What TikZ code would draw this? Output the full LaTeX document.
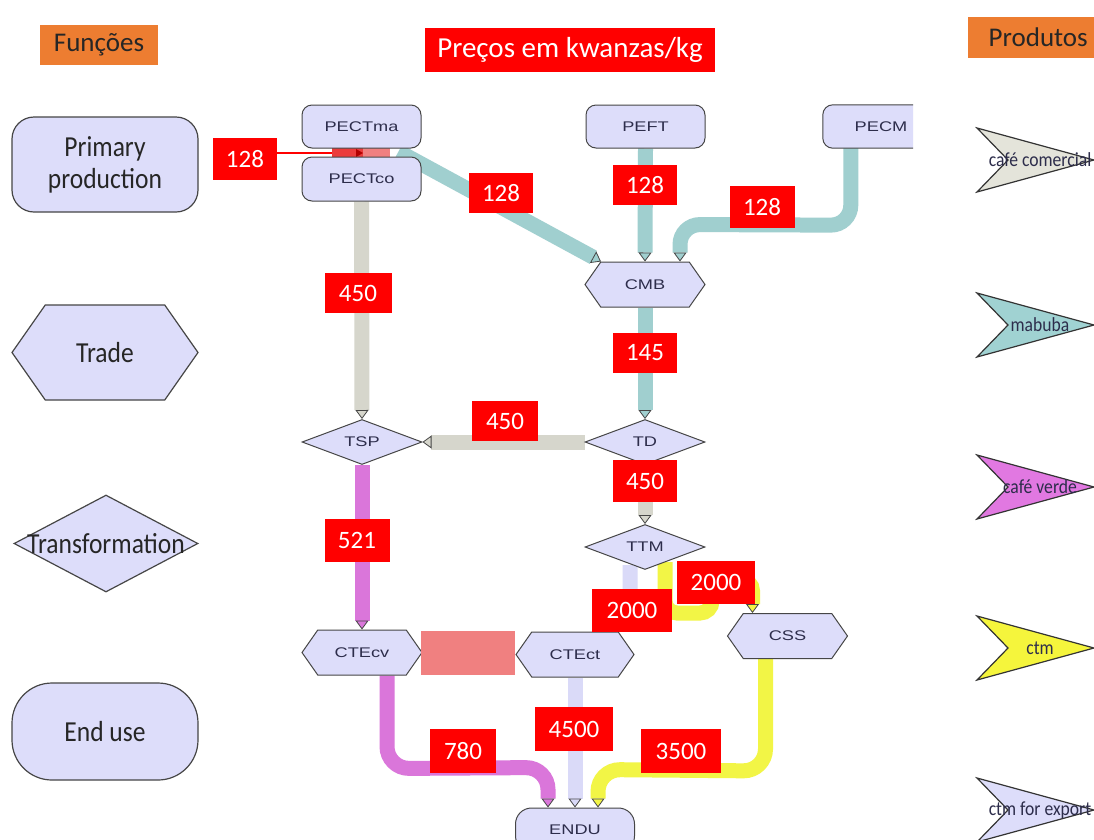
\documentclass[tikz,border=0pt]{standalone}
\usepackage{fontspec}
\setmainfont{Carlito}
\newfontfamily\nodefont[FakeStretch=1.3]{Liberation Sans}
\newfontfamily\legfont[FakeStretch=0.88]{Carlito}
\usetikzlibrary{shapes.geometric,shapes.symbols,arrows.meta,calc}
\pgfdeclarelayer{bg}\pgfdeclarelayer{bgwhite}\pgfsetlayers{bgwhite,bg,main}
\definecolor{lav}{RGB}{221,221,250}
\definecolor{bord}{RGB}{70,70,70}
\definecolor{teal1}{RGB}{160,207,207}
\definecolor{gray1}{RGB}{214,214,204}
\definecolor{viol}{RGB}{218,118,218}
\definecolor{yel}{RGB}{242,245,70}
\definecolor{lavf}{RGB}{218,218,248}
\definecolor{org}{RGB}{237,125,49}
\definecolor{coral}{RGB}{240,128,128}
\definecolor{redseg}{RGB}{235,60,60}
\definecolor{txt}{RGB}{45,45,75}
\definecolor{ccom}{RGB}{228,228,218}
\definecolor{cmab}{RGB}{160,210,210}
\definecolor{cver}{RGB}{225,120,225}
\definecolor{cctm}{RGB}{245,245,60}
\tikzset{
  nfont/.style={font=\nodefont\fontsize{14}{16}\selectfont, text=txt},
  box/.style={draw=bord, line width=1pt, fill=lav, rounded corners=10pt, minimum width=119pt, minimum height=43pt, inner sep=0pt, nfont},
  hexa/.style={draw=bord, line width=1pt, fill=lav, signal, signal to=west and east, signal pointer angle=110, minimum width=120pt, minimum height=45pt, inner sep=0pt, nfont},
  dia/.style={draw=bord, line width=1pt, fill=lav, diamond, aspect=2.6, minimum width=120pt, minimum height=45pt, inner sep=0pt, nfont},
  lab/.style={fill=red, text=white, font=\fontsize{25}{27}\selectfont, minimum width=64pt, minimum height=42pt, inner sep=0pt},
  flow/.style={line width=15pt, draw=#1, rounded corners=20pt, -{Triangle[length=9pt 0 0,width=13pt 0 0,line width=0.8pt 0 0,color=bord,fill=#1]}},
  legshape/.style={draw=bord, line width=1.2pt, fill=lav, minimum width=186pt, minimum height=95pt, inner sep=0pt, legtext},
  legtext/.style={font=\legfont\fontsize{29}{32}\selectfont, text=black!85, align=center},
  prodtext/.style={font=\legfont\fontsize{20}{22}\selectfont, text=txt},
  prodshape/.style={draw=black!80, line width=1.2pt, fill=#1}
}
\begin{document}
\begin{tikzpicture}[x=1pt,y=-1pt]
\clip (0,0) rectangle (1094,839);
\begin{pgfonlayer}{bgwhite}
\fill[white] (0,0) rectangle (1094,839);
\end{pgfonlayer}
% headers
\node[fill=org, minimum width=118pt, minimum height=40pt, font=\fontsize{27}{29}\selectfont, text=black!85] (hf) at (99,45) {Funções};
\node[fill=red, minimum width=290pt, minimum height=44pt, font=\fontsize{29}{31}\selectfont, text=white] (hp) at (570,50) {Preços em kwanzas/kg};
\node[fill=org, anchor=west, inner xsep=12pt, minimum width=140pt, minimum height=41pt, font=\fontsize{27}{29}\selectfont, text=black!85] (hprod) at (968,37.5) {Produtos};
% legend
\node[legshape, rounded corners=22pt] (lpp) at (105,164.5) {Primary\\production};
\node[legshape, signal, signal to=west and east, signal pointer angle=110] (ltr) at (105,352.5) {Trade};
\node[legshape, diamond, aspect=1.9, minimum width=184pt, minimum height=97pt] (ltf) at (106,543.5) {};
\node[legtext] (ltft) at (ltf) {Transformation};
\node[legshape, rounded corners=40pt, minimum height=97pt] (leu) at (105,731.5) {End use};
% products
\foreach \yy/\cc/\tt/\nn in {160/ccom/café comercial/p1, 325/cmab/mabuba/p2, 487/cver/café verde/p3, 648/cctm/ctm/p4, 810/lav/ctm for export/p5}{
  \draw[prodshape=\cc] (977,\yy-32) -- (1094,\yy) -- (977,\yy+32) -- (1008,\yy) -- cycle;
  \node[prodtext] (\nn) at (1040,\yy) {\tt};
}
% main nodes
\node[box] (PECTma) at (361.5,126.5) {PECTma};
\node[box, minimum height=44pt] (PECTco) at (361.5,179) {PECTco};
\node[box] (PEFT) at (645.5,126.5) {PEFT};
\node[minimum width=90pt, minimum height=43pt, inner sep=0pt] (PECM) at (868,126.5) {};
\filldraw[fill=lav, draw=bord, line width=1pt] (PECM.north east) [rounded corners=10pt] -- (PECM.north west) -- (PECM.south west) [sharp corners] -- (PECM.south east);
\node[nfont] (PECMt) at ($(PECM.center)+(13,0)$) {PECM};
\node[hexa] (CMB) at (645,284.5) {CMB};
\node[dia] (TSP) at (362,442) {TSP};
\node[dia] (TD) at (645,442) {TD};
\node[dia] (TTM) at (645,547) {TTM};
\node[hexa] (CTEcv) at (362,652.5) {CTEcv};
\node[hexa, minimum width=118pt] (CTEct) at (575,654.5) {CTEct};
\node[hexa] (CSS) at (787.5,636) {CSS};
\node[box, rounded corners=16pt, minimum height=44pt] (ENDU) at (575,830) {ENDU};
\node[fill=coral, minimum width=94pt, minimum height=44pt, inner sep=0pt] (pink) at (468,653) {};
% labels
\node[lab] (L1) at (245,159) {128};
\node[lab, minimum height=40pt] (L2) at (501,193) {128};
\node[lab, minimum height=40pt] (L3) at (645,185) {128};
\node[lab, minimum width=65pt] (L4) at (762,207) {128};
\node[lab, minimum width=67pt, minimum height=40pt] (L5) at (358,293) {450};
\node[lab, minimum height=40pt] (L6) at (645,353) {145};
\node[lab, minimum width=66pt, minimum height=40pt] (L7) at (505,421) {450};
\node[lab, minimum height=42pt] (L8) at (645,481) {450};
\node[lab, minimum width=65pt, minimum height=43pt] (L9) at (357,540) {521};
\node[lab, minimum width=78pt, minimum height=43pt] (L10) at (716,582) {2000};
\node[lab, minimum width=80pt, minimum height=43pt] (L11) at (632,610) {2000};
\node[lab, minimum width=66pt, minimum height=44pt] (L12) at (463,751) {780};
\node[lab, minimum width=78pt, minimum height=44pt] (L13) at (574,729) {4500};
\node[lab, minimum width=80pt, minimum height=44pt] (L14) at (681,751) {3500};
\coordinate (inflow) at (363,153);
% flows
\begin{pgfonlayer}{bg}
\draw[red, line width=1.5pt] ($(L1.east)+(0,-6)$) -- (332,153);
\draw[redseg, line width=10pt] (332,153) -- (inflow);
\draw[coral, line width=10pt] (inflow) -- (390,153);
\fill[red!70!black] (inflow) -- ++(-7,-4) -- ++(0,8) -- cycle;
\draw[flow=teal1] ($(PECTma.south east)+(-23,3)$) -- ($(CMB.north)+(-44,0)$);
\draw[flow=teal1] (PEFT.south) -- (CMB.north);
\draw[flow=teal1] ($(PECM.south west)+(28,0)$) -- ++(0,77) -- ($(CMB.north)+(35,-37)$) -- ($(CMB.north)+(35,0)$);
\draw[flow=gray1] (PECTco.south) -- (TSP.north);
\draw[flow=teal1] (CMB.south) -- (TD.north);
\draw[flow=gray1] (TD.west) -- (TSP.east);
\draw[flow=gray1] (TD.south) -- (TTM.north);
\draw[flow=viol] (TSP.south) -- (CTEcv.north);
\draw[flow=lavf, rounded corners=10pt] ($(TTM.south)+(-15,-5)$) -- ++(0,47.5) -- ($(CTEct.north)+(27,-20)$) -- ($(CTEct.north)+(27,0)$);
\draw[flow=yel, rounded corners=12pt] ($(TTM.south)+(20,-8)$) -- ++(0,51) -- ++(47,0) -- ++(0,-32) -- ($(CSS.north)+(-35,-34)$) -- ($(CSS.north)+(-35,0)$);
\draw[flow=viol, rounded corners=22pt] ($(CTEcv.south)+(25,0)$) -- ++(0,93) -- ($(ENDU.north)+(-27,-40)$) -- ($(ENDU.north)+(-27,0)$);
\draw[flow=lavf] (CTEct.south) -- (ENDU.north);
\draw[flow=yel, rounded corners=22pt] ($(CSS.south)+(-22,0)$) -- ++(0,112) -- ($(ENDU.north)+(23,-38)$) -- ($(ENDU.north)+(23,0)$);
\end{pgfonlayer}
\end{tikzpicture}
\end{document}
